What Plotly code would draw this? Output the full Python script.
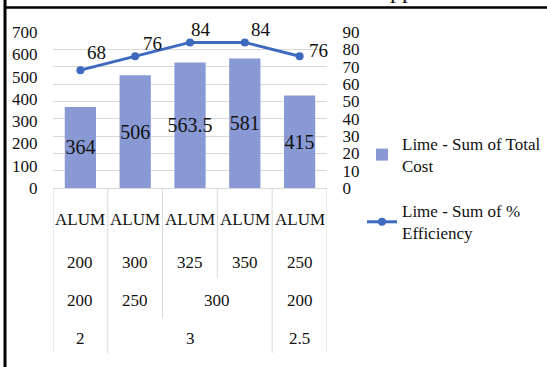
import plotly.graph_objects as go

# ---- data -------------------------------------------------------------
coagulant = ["ALUM", "ALUM", "ALUM", "ALUM", "ALUM"]
dose = ["200", "300", "325", "350", "250"]
lime_dose = ["200", "250", "300", "300", "200"]
ratio = ["2", "3", "3", "3", "2.5"]
total_cost = [364, 506, 563.5, 581, 415]
efficiency = [68, 76, 84, 84, 76]

levels = [coagulant, dose, lime_dose, ratio]  # top row = innermost level

# ---- styling ----------------------------------------------------------
FONT = "Liberation Serif, Times New Roman, serif"
TXT = "#111111"
GRID = "#D9D9D9"
BAR = "#8899D4"
LINE = "#3D69BF"

W, H = 547, 367
ML, MR, MT, MB = 53, 220, 32, 179
PLOT_H = H - MT - MB
PLOT_W = W - ML - MR


def py(px):
    """pixel row -> paper y"""
    return (H - MB - px) / PLOT_H


def pxx(px):
    """pixel column -> paper x"""
    return (px - ML) / PLOT_W


n = len(total_cost)
xs = list(range(n))

fig = go.Figure()
fig.add_trace(go.Bar(
    x=xs, y=total_cost, name="Lime - Sum of Total<br>Cost", legendgroup="cost",
    marker=dict(color=BAR, line=dict(width=0)), width=0.57,
    texttemplate="%{y}", textposition="inside", insidetextanchor="middle",
    textangle=0, constraintext="none",
    textfont=dict(family=FONT, size=20, color=TXT),
    yaxis="y",
))
fig.add_trace(go.Scatter(
    x=xs, y=efficiency, name="Lime - Sum of %<br>Efficiency", legendgroup="eff",
    mode="lines+markers",
    line=dict(color=LINE, width=3),
    marker=dict(color=LINE, size=8),
    yaxis="y2", cliponaxis=False,
))

shapes = []
annotations = []

# value labels for the efficiency line, offset from each point (px)
label_shift = [(16, 18), (17, 13), (11, 13), (16, 13), (19, 6)]
for i, v in enumerate(efficiency):
    dx, dy = label_shift[i]
    annotations.append(dict(
        x=xs[i], y=v, xref="x", yref="y2", text=str(v), showarrow=False,
        xanchor="center", yanchor="middle", xshift=dx, yshift=dy,
        font=dict(family=FONT, size=19, color=TXT),
    ))

# ---- multi-level category table under the plot -------------------------
row_centers = [219, 262, 300, 338]
row_bottoms = [240, 278, 318, 353]
table_top = H - MB
nrows = len(levels)


def key(r, c):
    return tuple(levels[k][c] for k in range(r, nrows))


for r in range(nrows):
    c = 0
    while c < n:
        e = c
        if r > 0:
            while e + 1 < n and key(r, e + 1) == key(r, c):
                e += 1
        annotations.append(dict(
            x=(c + e) / 2, y=py(row_centers[r]), xref="x", yref="paper",
            text=levels[r][c], showarrow=False, xanchor="center", yanchor="middle",
            font=dict(family=FONT, size=17, color=TXT),
        ))
        c = e + 1

# separators: each boundary runs down to the deepest row where groups split
for b in range(-1, n):
    if b in (-1, n - 1):
        depth = nrows - 1
    else:
        depth = max(r for r in range(nrows) if r == 0 or key(r, b) != key(r, b + 1))
    shapes.append(dict(
        type="line", xref="x", yref="paper", x0=b + 0.5, x1=b + 0.5,
        y0=py(table_top), y1=py(row_bottoms[depth]),
        line=dict(color=GRID, width=1),
    ))

# frame lines on the left and top of the image
shapes.append(dict(type="line", xref="paper", yref="paper",
                   x0=pxx(5), x1=pxx(5), y0=py(0), y1=py(H),
                   line=dict(color="#000000", width=3)))
shapes.append(dict(type="line", xref="paper", yref="paper",
                   x0=pxx(4), x1=pxx(W), y0=py(7.5), y1=py(7.5),
                   line=dict(color="#000000", width=2.5)))

# descenders of the caption sitting above the frame
annotations.append(dict(
    x=pxx(388), y=py(5), xref="paper", yref="paper", text="pp",
    showarrow=False, xanchor="left", yanchor="bottom",
    font=dict(family=FONT, size=24, color=TXT),
))

fig.update_layout(
    width=W, height=H,
    margin=dict(l=ML, r=MR, t=MT, b=MB, pad=0, autoexpand=False),
    paper_bgcolor="white", plot_bgcolor="white",
    showlegend=True,
    legend=dict(
        x=pxx(362), y=py(126), xanchor="left", yanchor="top",
        font=dict(family=FONT, size=17, color=TXT),
        bgcolor="rgba(0,0,0,0)", tracegroupgap=20, itemwidth=30,
        traceorder="grouped",
    ),
    bargap=0.43,
    xaxis=dict(range=[-0.5, n - 0.5], showticklabels=False, showgrid=False,
               zeroline=False, showline=True, linecolor=GRID, linewidth=1,
               fixedrange=True),
    yaxis=dict(range=[0, 700], dtick=100, showgrid=False, zeroline=False,
               showline=False, ticks="outside", ticklen=11, tickcolor="rgba(0,0,0,0)",
               tickfont=dict(family=FONT, size=17, color=TXT)),
    yaxis2=dict(range=[0, 90], dtick=10, overlaying="y", side="right",
                showgrid=True, gridcolor=GRID, gridwidth=1, zeroline=False,
                showline=False, ticks="outside", ticklen=11,
                tickcolor="rgba(0,0,0,0)",
                tickfont=dict(family=FONT, size=17, color=TXT)),
    shapes=shapes,
    annotations=annotations,
)

fig.write_html("out.html")
